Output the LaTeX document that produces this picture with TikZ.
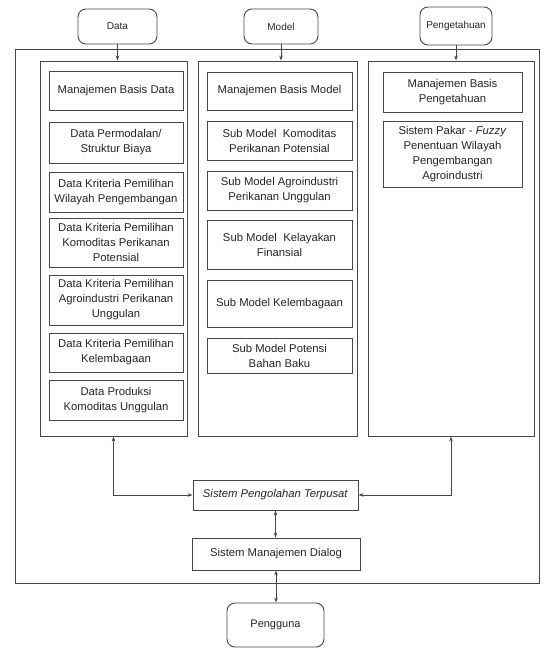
\documentclass[tikz,border=0pt]{standalone}
\usepackage{fontspec}
\setmainfont{Liberation Sans}
\usetikzlibrary{arrows.meta}
\begin{document}
\begin{tikzpicture}[x=1pt,y=-1pt,
  ln/.style={draw=black!72,line width=0.9pt},
  box/.style={ln,rectangle,inner sep=1pt,align=center,text=black!85,
    font=\fontsize{11.3}{15}\selectfont},
  topbox/.style={ln,rectangle,rounded corners=8pt,inner sep=1pt,align=center,text=black!85,
    font=\fontsize{10}{12}\selectfont},
  colbox/.style={ln,rectangle,inner sep=0pt},
  arr/.style={ln,-{Stealth[length=5pt,width=3.6pt]}},
  darr/.style={ln,{Stealth[length=5pt,width=3.6pt]}-{Stealth[length=5pt,width=3.6pt]}}
]
\useasboundingbox (0,0) rectangle (546,649);
\fill[white] (0,0) rectangle (546,649);

% outer frame
\node[colbox,minimum width=524pt,minimum height=534pt] (outer) at (277,316) {};

% top boxes
\node[topbox,minimum width=79pt,minimum height=35pt] (data) at (117.5,26.5) {Data};
\node[topbox,minimum width=74pt,minimum height=35pt] (model) at (281,26.5) {Model};
\node[topbox,minimum width=72pt,minimum height=38pt] (peng) at (456,26) {Pengetahuan};

% columns
\node[colbox,minimum width=147pt,minimum height=375pt] (col1) at (113.5,248.5) {};
\node[colbox,minimum width=159pt,minimum height=375pt] (col2) at (277.5,248.5) {};
\node[colbox,minimum width=166pt,minimum height=375pt] (col3) at (451,248.5) {};

% column 1
\node[box,minimum width=134pt,minimum height=39pt] (d1) at (116,90.5) {Manajemen Basis Data};
\node[box,minimum width=134pt,minimum height=41pt] (d2) at (116,142.5) {Data Permodalan/\\Struktur Biaya};
\node[box,minimum width=134pt,minimum height=40pt] (d3) at (116,192) {Data Kriteria Pemilihan\\Wilayah Pengembangan};
\node[box,minimum width=134pt,minimum height=49pt] (d4) at (116,242.5) {Data Kriteria Pemilihan\\Komoditas Perikanan\\Potensial};
\node[box,minimum width=134pt,minimum height=50pt] (d5) at (116,300) {Data Kriteria Pemilihan\\Agroindustri Perikanan\\Unggulan};
\node[box,minimum width=134pt,minimum height=39pt] (d6) at (116,352.5) {Data Kriteria Pemilihan\\Kelembagaan};
\node[box,minimum width=134pt,minimum height=40pt] (d7) at (116,400) {Data Produksi\\Komoditas Unggulan};

% column 2
\node[box,minimum width=145pt,minimum height=38pt] (m1) at (279.5,91) {Manajemen Basis Model};
\node[box,minimum width=145pt,minimum height=39pt] (m2) at (279.5,140.5) {Sub Model\ \ Komoditas\\Perikanan Potensial};
\node[box,minimum width=145pt,minimum height=39pt] (m3) at (279.5,190.5) {Sub Model Agroindustri\\Perikanan Unggulan};
\node[box,minimum width=145pt,minimum height=49pt] (m4) at (279.5,244.5) {Sub Model\ \ Kelayakan\\Finansial};
\node[box,minimum width=145pt,minimum height=47pt] (m5) at (279.5,303.5) {Sub Model Kelembagaan};
\node[box,minimum width=145pt,minimum height=35pt] (m6) at (279.5,355.5) {Sub Model Potensi\\Bahan Baku};

% column 3
\node[box,minimum width=139pt,minimum height=40pt] (k1) at (452.5,92) {Manajemen Basis\\Pengetahuan};
\node[box,minimum width=139pt,minimum height=66pt] (k2) at (452.5,154) {Sistem Pakar - \textit{Fuzzy}\\Penentuan Wilayah\\Pengembangan\\Agroindustri};

% bottom
\node[box,minimum width=165pt,minimum height=30pt] (spt) at (275.5,495) {\textit{Sistem Pengolahan Terpusat}};
\node[box,minimum width=168pt,minimum height=32pt] (smd) at (276,554) {Sistem Manajemen Dialog};
\node[topbox,font=\fontsize{11}{13}\selectfont,minimum width=97pt,minimum height=44pt] (user) at (275.5,625) {Pengguna};

% connectors
\draw[arr] (data.south) -- (data.south |- col1.north);
\draw[arr] (model.south) -- (model.south |- col2.north);
\draw[arr] (peng.south) -- (peng.south |- col3.north);
\draw[darr] (col1.south) |- (spt.west);
\draw[darr] (col3.south) |- (spt.east);
\draw[darr] (spt.south) -- (spt.south |- smd.north);
\draw[darr] (smd.south) -- (smd.south |- user.north);
\end{tikzpicture}
\end{document}
